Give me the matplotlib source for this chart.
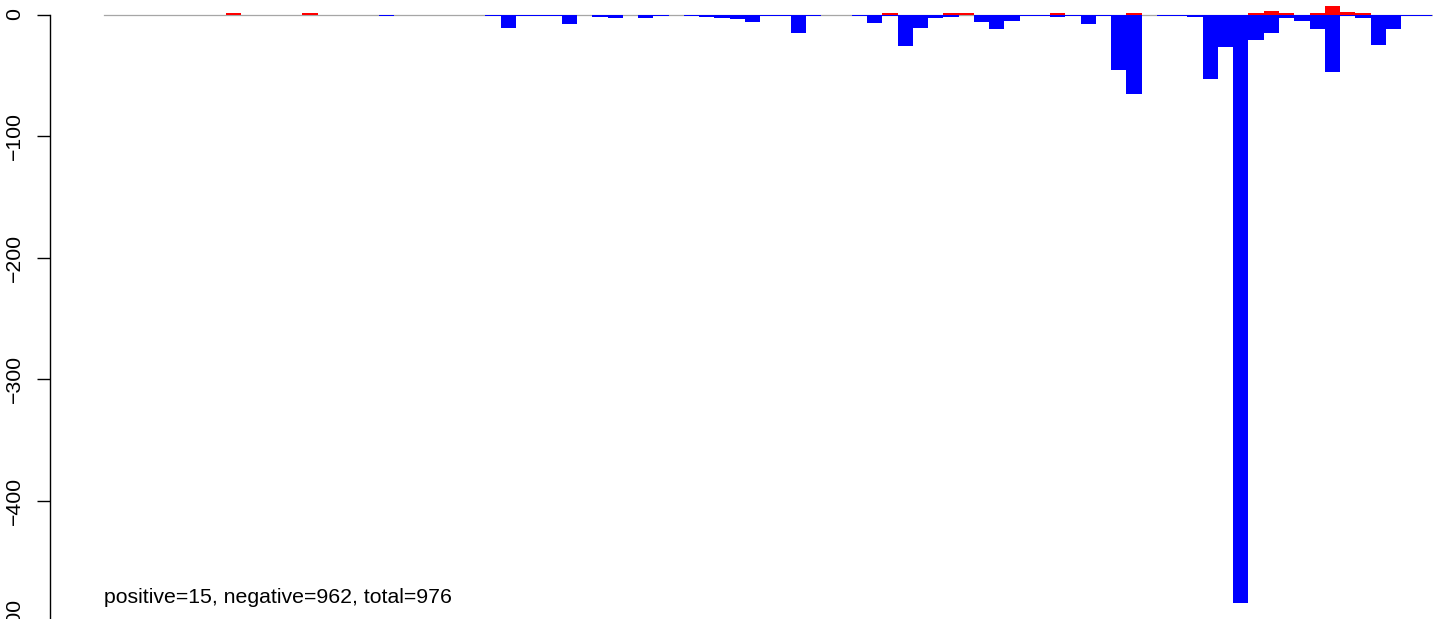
"""Per-bin bar chart: positive counts in red above zero, negative counts in blue below."""
import matplotlib
matplotlib.use("Agg")
import matplotlib.pyplot as plt
import numpy as np

plt.rcParams["font.family"] = ["Liberation Sans", "DejaVu Sans"]

# values per bin (87 bins)
positive = [0, 0, 0, 0, 0, 0, 0, 0, 1, 0,
            0, 0, 0, 1, 0, 0, 0, 0, 0, 0,
            0, 0, 0, 0, 0, 0, 0, 0, 0, 0,
            0, 0, 0, 0, 0, 0, 0, 0, 0, 0,
            0, 0, 0, 0, 0, 0, 0, 0, 0, 0,
            0, 1, 0, 0, 0, 1, 1, 0, 0, 0,
            0, 0, 1, 0, 0, 0, 0, 1, 0, 0,
            0, 0, 0, 0, 0, 1, 3, 1, 0, 1,
            7, 2, 1, 0, 0, 0, 0]
negative = [0, 0, 0, 0, 0, 0, 0, 0, 0, 0,
            0, 0, 0, 0, 0, 0, 0, 0, -1, 0,
            0, 0, 0, 0, 0, -1, -11, -1, -1, -1,
            -8, 0, -2, -3, 0, -3, -1, 0, -1, -2,
            -3, -4, -6, -1, -1, -15, -1, 0, 0, -1,
            -7, -1, -26, -11, -3, -2, 0, -6, -12, -5,
            -1, -1, -2, -1, -8, -1, -46, -65, 0, -1,
            -1, -2, -53, -27, -484, -21, -15, -3, -5, -12,
            -47, -1, -3, -25, -12, -1, -1]
y_ticks = [0, -100, -200, -300, -400, -500]
summary = "positive=15, negative=962, total=976"

W, H = 1433, 619
fig = plt.figure(figsize=(W / 100, H / 100), dpi=100)

# axes run past the bottom edge, as in the cropped original
px_per_bin = 15.26
px_per_unit = 1.216
left_px, data_left_px, zero_px, bottom_px = 50, 104, 14.5, 650
ax = fig.add_axes([left_px / W, (H - bottom_px) / H,
                   (W - left_px) / W, bottom_px / H])

n = len(positive)
x = np.arange(n)
ax.plot([0, n], [0, 0], color="#a6a6a6", lw=0.9, zorder=1)
ax.bar(x, positive, width=1, align="edge", color="#ff0000", linewidth=0, zorder=2)
ax.bar(x, negative, width=1, align="edge", color="#0000ff", linewidth=0, zorder=2)

ax.set_xlim(-(data_left_px - left_px) / px_per_bin, (W - data_left_px) / px_per_bin)
ax.set_ylim(-(bottom_px - zero_px) / px_per_unit, zero_px / px_per_unit)

ax.text(0, min(negative), summary, ha="left", va="baseline", fontsize=15.3)

for side in ("top", "right", "bottom"):
    ax.spines[side].set_visible(False)
ax.spines["left"].set_bounds(min(y_ticks), max(y_ticks))
ax.spines["left"].set_linewidth(1.0)
ax.set_xticks([])
ax.set_yticks(y_ticks)
ax.set_yticklabels(["\u2212" + str(-t) if t < 0 else str(t) for t in y_ticks])
ax.tick_params(axis="y", length=9.5, width=1.0, pad=9, labelsize=15.3, labelrotation=90)
for lab in ax.get_yticklabels():
    lab.set_va("center")

fig.savefig("out.png", dpi=100)
